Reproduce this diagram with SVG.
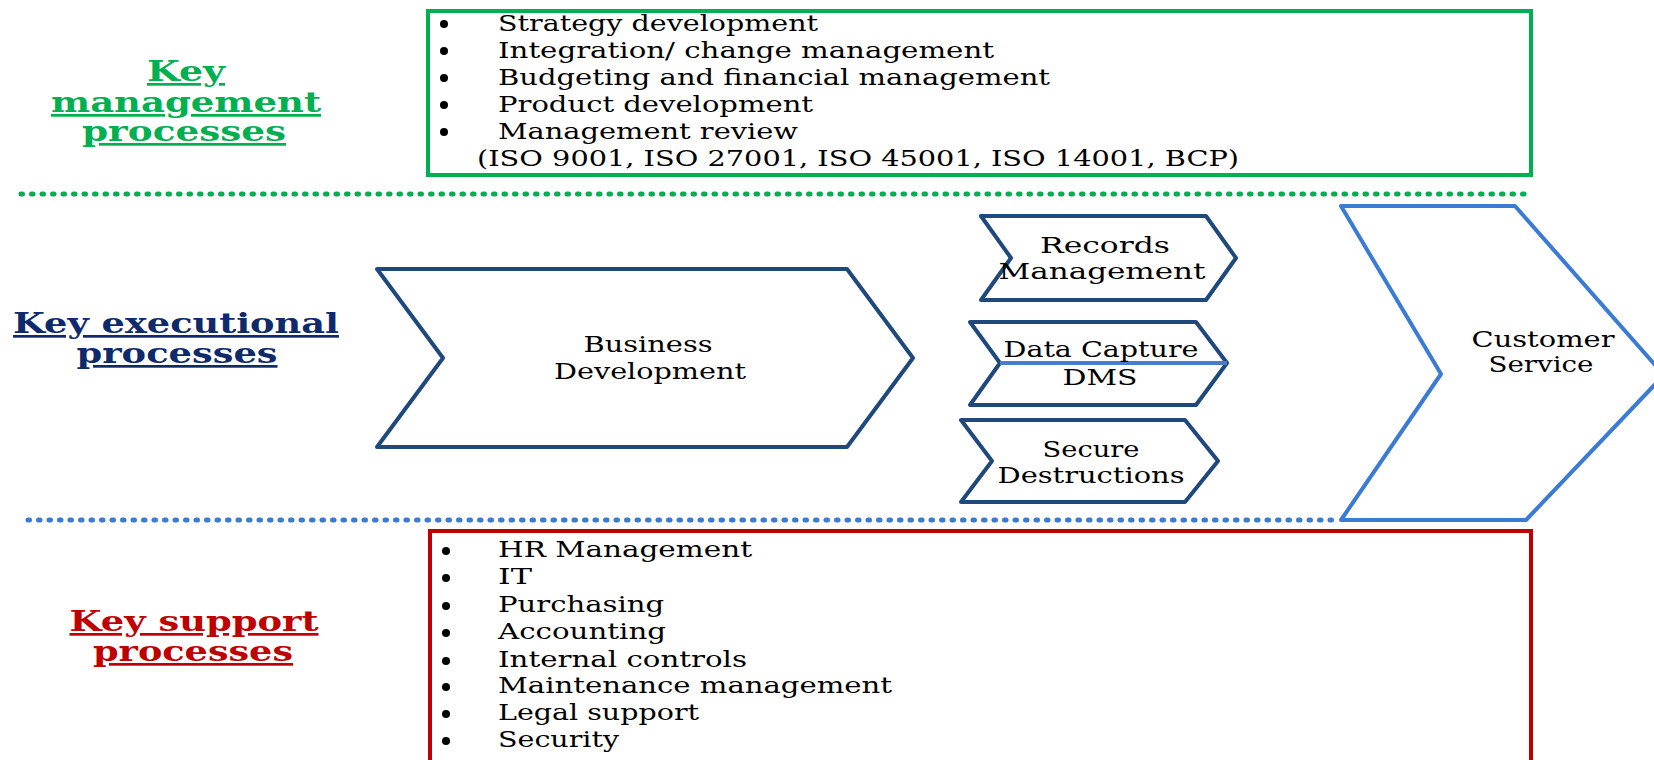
<svg xmlns="http://www.w3.org/2000/svg" width="1654" height="760" viewBox="0 0 1654 760">
<style>
.bg{fill:#ffffff}
.list{font-family:"DejaVu Serif","Liberation Serif",serif;font-size:23px;fill:#000}
.lab{font-family:"DejaVu Serif","Liberation Serif",serif;font-size:27px;font-weight:bold;text-decoration:underline}
.chv{font-family:"DejaVu Serif","Liberation Serif",serif;font-size:22px;fill:#000;text-anchor:middle}
.dark{fill:#fff;stroke:#1F497D;stroke-width:4;stroke-linejoin:round}
.light{fill:#fff;stroke:#3A7BD5;stroke-width:4;stroke-linejoin:round}
.dot{stroke-width:5;stroke-linecap:round;stroke-dasharray:1.5 9;fill:none}
.bul{fill:#000}
</style>
<rect class="bg" x="0" y="0" width="1654" height="760"/>

<g id="separators">
<line class="dot" x1="21" y1="194" x2="1531" y2="194" stroke="#00B050"/>
<line class="dot" x1="28" y1="520" x2="1338" y2="520" stroke="#3A7BD5"/>
</g>

<g id="management-label" fill="#00B050">
<text class="lab" x="186" y="81" text-anchor="middle" textLength="78" lengthAdjust="spacingAndGlyphs">Key</text>
<text class="lab" x="186" y="112" text-anchor="middle" textLength="270" lengthAdjust="spacingAndGlyphs">management</text>
<text class="lab" x="184" y="141" text-anchor="middle" textLength="204" lengthAdjust="spacingAndGlyphs">processes</text>
</g>

<g id="management-box">
<rect x="428" y="11" width="1103" height="164" fill="none" stroke="#00B050" stroke-width="4"/>
<circle class="bul" cx="444" cy="24" r="4"/>
<circle class="bul" cx="444" cy="51" r="4"/>
<circle class="bul" cx="444" cy="78" r="4"/>
<circle class="bul" cx="444" cy="105" r="4"/>
<circle class="bul" cx="444" cy="132" r="4"/>
<text class="list" x="498" y="31" textLength="320" lengthAdjust="spacingAndGlyphs">Strategy development</text>
<text class="list" x="498" y="58" textLength="496" lengthAdjust="spacingAndGlyphs">Integration/ change management</text>
<text class="list" x="498" y="85" textLength="552" lengthAdjust="spacingAndGlyphs">Budgeting and financial management</text>
<text class="list" x="498" y="112" textLength="315" lengthAdjust="spacingAndGlyphs">Product development</text>
<text class="list" x="498" y="139" textLength="300" lengthAdjust="spacingAndGlyphs">Management review</text>
<text class="list" x="477" y="166" textLength="762" lengthAdjust="spacingAndGlyphs">(ISO 9001, ISO 27001, ISO 45001, ISO 14001, BCP)</text>
</g>

<g id="executional-label" fill="#0E2A6B">
<text class="lab" x="176" y="333" text-anchor="middle" textLength="326" lengthAdjust="spacingAndGlyphs">Key executional</text>
<text class="lab" x="177" y="363" text-anchor="middle" textLength="201" lengthAdjust="spacingAndGlyphs">processes</text>
</g>

<g id="business-development">
<polygon class="dark" points="377,269 847,269 913,358 847,447 377,447 443,358"/>
<text class="chv" x="648" y="352" textLength="129" lengthAdjust="spacingAndGlyphs">Business</text>
<text class="chv" x="650" y="379" textLength="192" lengthAdjust="spacingAndGlyphs">Development</text>
</g>

<g id="records-management">
<polygon class="dark" points="981,216 1206,216 1236,258 1206,300 981,300 1011,258"/>
<text class="chv" x="1105" y="253" textLength="130" lengthAdjust="spacingAndGlyphs">Records</text>
<text class="chv" x="1102" y="279" textLength="207" lengthAdjust="spacingAndGlyphs">Management</text>
</g>

<g id="data-capture">
<polygon class="dark" points="970,322 1196,322 1227,363 1196,405 970,405 1000,363"/>
<line x1="1000" y1="363" x2="1227" y2="363" stroke="#4A7CC8" stroke-width="4"/>
<text class="chv" x="1101" y="357" textLength="195" lengthAdjust="spacingAndGlyphs">Data Capture</text>
<text class="chv" x="1100" y="385" textLength="75" lengthAdjust="spacingAndGlyphs">DMS</text>
</g>

<g id="secure-destructions">
<polygon class="dark" points="961,420 1185,420 1218,461 1185,502 961,502 992,461"/>
<text class="chv" x="1091" y="457" textLength="97" lengthAdjust="spacingAndGlyphs">Secure</text>
<text class="chv" x="1091" y="483" textLength="187" lengthAdjust="spacingAndGlyphs">Destructions</text>
</g>

<g id="customer-service">
<polygon class="light" points="1341,206 1515,206 1664,375 1526,520 1341,520 1441,374"/>
<text class="chv" x="1543" y="347" textLength="143" lengthAdjust="spacingAndGlyphs">Customer</text>
<text class="chv" x="1541" y="372" textLength="105" lengthAdjust="spacingAndGlyphs">Service</text>
</g>

<g id="support-label" fill="#C00000">
<text class="lab" x="194" y="631" text-anchor="middle" textLength="249" lengthAdjust="spacingAndGlyphs">Key support</text>
<text class="lab" x="193" y="661" text-anchor="middle" textLength="200" lengthAdjust="spacingAndGlyphs">processes</text>
</g>

<g id="support-box">
<rect x="430" y="531" width="1101" height="250" fill="none" stroke="#C00000" stroke-width="4"/>
<circle class="bul" cx="446" cy="551" r="4"/>
<circle class="bul" cx="446" cy="578" r="4"/>
<circle class="bul" cx="446" cy="606" r="4"/>
<circle class="bul" cx="446" cy="633" r="4"/>
<circle class="bul" cx="446" cy="661" r="4"/>
<circle class="bul" cx="446" cy="687" r="4"/>
<circle class="bul" cx="446" cy="714" r="4"/>
<circle class="bul" cx="446" cy="741" r="4"/>
<text class="list" x="498" y="557" textLength="254" lengthAdjust="spacingAndGlyphs">HR Management</text>
<text class="list" x="498" y="584" textLength="34" lengthAdjust="spacingAndGlyphs">IT</text>
<text class="list" x="498" y="612" textLength="166" lengthAdjust="spacingAndGlyphs">Purchasing</text>
<text class="list" x="498" y="639" textLength="168" lengthAdjust="spacingAndGlyphs">Accounting</text>
<text class="list" x="498" y="667" textLength="249" lengthAdjust="spacingAndGlyphs">Internal controls</text>
<text class="list" x="498" y="693" textLength="394" lengthAdjust="spacingAndGlyphs">Maintenance management</text>
<text class="list" x="498" y="720" textLength="201" lengthAdjust="spacingAndGlyphs">Legal support</text>
<text class="list" x="498" y="747" textLength="121" lengthAdjust="spacingAndGlyphs">Security</text>
</g>
</svg>
